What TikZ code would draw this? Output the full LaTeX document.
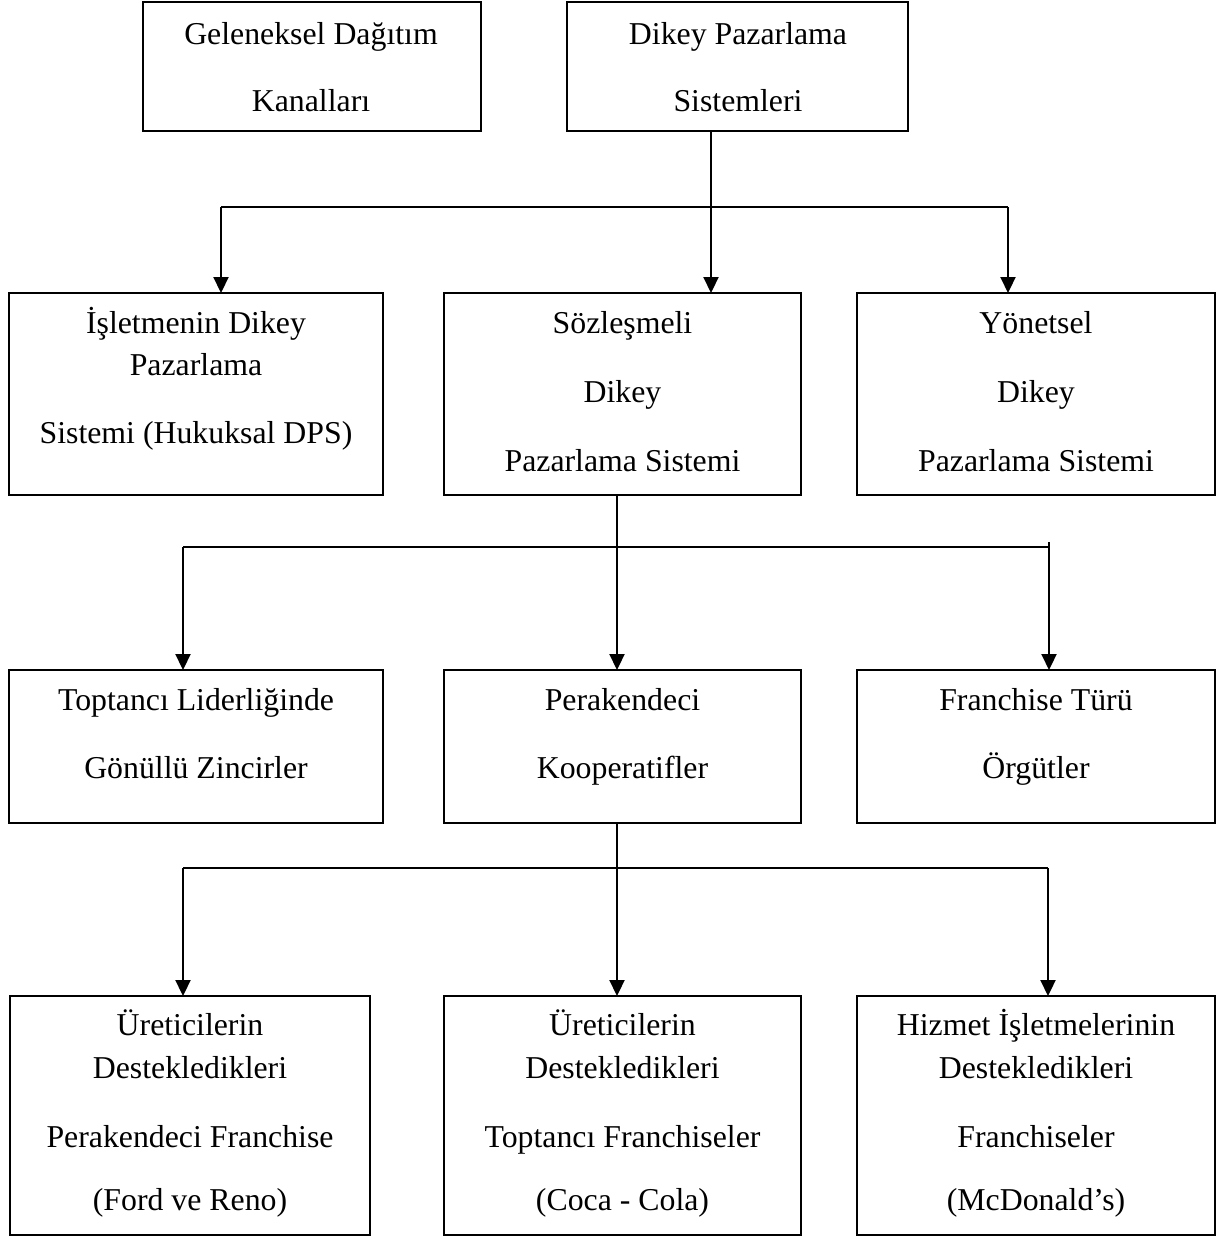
\documentclass[tikz,border=0pt]{standalone}
\usepackage{fontspec}
\setmainfont{Liberation Serif}
\usetikzlibrary{arrows.meta}
\tikzset{
  boxnode/.style={draw=black, line width=2.1pt, rectangle, inner sep=0pt, outer sep=0pt},
  txt/.style={anchor=base, inner sep=0pt, font=\fontsize{31.8}{38}\selectfont},
  conn/.style={draw=black, line width=2.2pt},
  arr/.style={conn, -{Triangle[length=16pt,width=15pt]}}
}
\begin{document}
\begin{tikzpicture}[x=1pt,y=-1pt]
\useasboundingbox (0,0) rectangle (1222,1236);
% boxes
\node[boxnode, minimum width=338pt, minimum height=129pt] (A) at (312,66.5) {};
\node[boxnode, minimum width=341pt, minimum height=129pt] (B) at (737.5,66.5) {};
\node[boxnode, minimum width=374pt, minimum height=202pt] (C) at (196,394) {};
\node[boxnode, minimum width=357pt, minimum height=202pt] (D) at (622.5,394) {};
\node[boxnode, minimum width=358pt, minimum height=202pt] (E) at (1036,394) {};
\node[boxnode, minimum width=374pt, minimum height=153pt] (F) at (196,746.5) {};
\node[boxnode, minimum width=357pt, minimum height=153pt] (G) at (622.5,746.5) {};
\node[boxnode, minimum width=358pt, minimum height=153pt] (H) at (1036,746.5) {};
\node[boxnode, minimum width=360pt, minimum height=239pt] (I) at (190,1115.5) {};
\node[boxnode, minimum width=357pt, minimum height=239pt] (J) at (622.5,1115.5) {};
\node[boxnode, minimum width=358pt, minimum height=239pt] (K) at (1036,1115.5) {};
% texts
\node[txt] (tA1) at (311,45) {Geleneksel Dağıtım};
\node[txt] (tA2) at (311,112) {Kanalları};
\node[txt] (tB1) at (738,45) {Dikey Pazarlama};
\node[txt] (tB2) at (738,112) {Sistemleri};
\node[txt] (tC1) at (196,333) {İşletmenin Dikey};
\node[txt] (tC2) at (196,375) {Pazarlama};
\node[txt] (tC3) at (196,443) {Sistemi (Hukuksal DPS)};
\node[txt] (tD1) at (622.5,333) {Sözleşmeli};
\node[txt] (tD2) at (622.5,402) {Dikey};
\node[txt] (tD3) at (622.5,471) {Pazarlama Sistemi};
\node[txt] (tE1) at (1036,333) {Yönetsel};
\node[txt] (tE2) at (1036,402) {Dikey};
\node[txt] (tE3) at (1036,471) {Pazarlama Sistemi};
\node[txt] (tF1) at (196,710) {Toptancı Liderliğinde};
\node[txt] (tF2) at (196,778) {Gönüllü Zincirler};
\node[txt] (tG1) at (622.5,710) {Perakendeci};
\node[txt] (tG2) at (622.5,778) {Kooperatifler};
\node[txt] (tH1) at (1036,710) {Franchise Türü};
\node[txt] (tH2) at (1036,778) {Örgütler};
\node[txt] (tI1) at (190,1035) {Üreticilerin};
\node[txt] (tI2) at (190,1078) {Destekledikleri};
\node[txt] (tI3) at (190,1147) {Perakendeci Franchise};
\node[txt] (tI4) at (190,1210) {(Ford ve Reno)};
\node[txt] (tJ1) at (622.5,1035) {Üreticilerin};
\node[txt] (tJ2) at (622.5,1078) {Destekledikleri};
\node[txt] (tJ3) at (622.5,1147) {Toptancı Franchiseler};
\node[txt] (tJ4) at (622.5,1210) {(Coca - Cola)};
\node[txt] (tK1) at (1036,1035) {Hizmet İşletmelerinin};
\node[txt] (tK2) at (1036,1078) {Destekledikleri};
\node[txt] (tK3) at (1036,1147) {Franchiseler};
\node[txt] (tK4) at (1036,1210) {(McDonald’s)};
% junction coordinates
\coordinate (m1) at (711,207);
\coordinate (l1) at (221,207);
\coordinate (r1) at (1008,207);
\coordinate (m2) at (617,547);
\coordinate (l2) at (183,547);
\coordinate (r2) at (1049,547);
\coordinate (r2t) at (1049,542);
\coordinate (m3) at (617,868);
\coordinate (l3) at (183,868);
\coordinate (r3) at (1048,868);
% level 1
\draw[arr] (B.south -| m1) -- (D.north -| m1);
\draw[conn] (l1) -- (r1);
\draw[arr] (l1) -- (C.north -| l1);
\draw[arr] (r1) -- (E.north -| r1);
% level 2
\draw[arr] (D.south -| m2) -- (G.north -| m2);
\draw[conn] (l2) -- (r2);
\draw[arr] (l2) -- (F.north -| l2);
\draw[arr] (r2t) -- (H.north -| r2t);
% level 3
\draw[arr] (G.south -| m3) -- (J.north -| m3);
\draw[conn] (l3) -- (r3);
\draw[arr] (l3) -- (I.north -| l3);
\draw[arr] (r3) -- (K.north -| r3);
\end{tikzpicture}
\end{document}
